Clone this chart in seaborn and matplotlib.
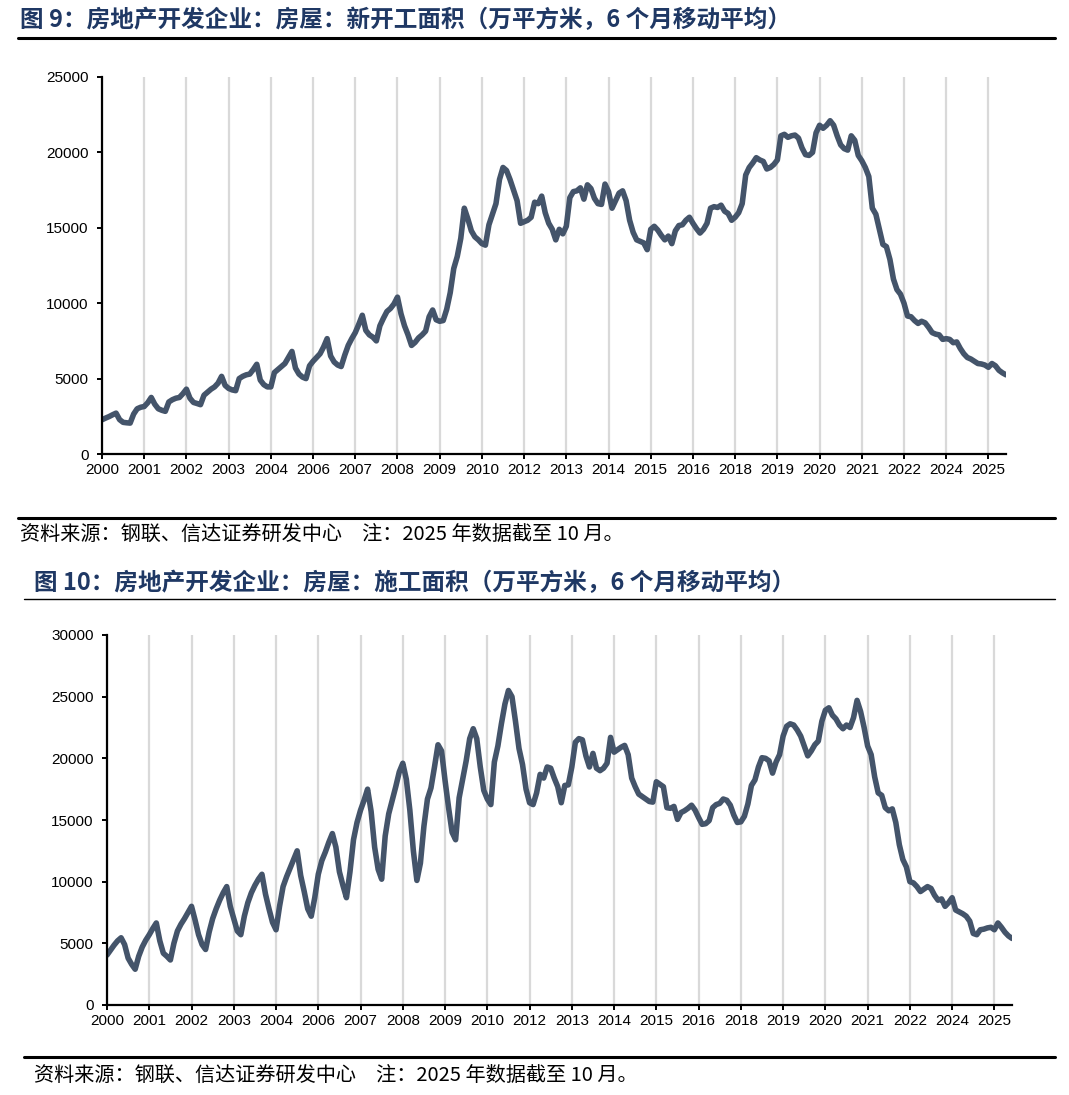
import matplotlib
matplotlib.use("Agg")
import matplotlib.pyplot as plt
from matplotlib.lines import Line2D
import pandas as pd
import seaborn as sns

# months in the series: Mar-Dec each year, 2025 up to Oct
years = list(range(2000, 2026))
months = [(y, m) for y in years for m in range(3, 13) if not (y == 2025 and m > 10)]

# 新开工面积, 6个月移动平均 (万平方米)
new_start = [
    2270, 2380, 2480, 2600, 2710, 2280, 2100, 2070, 2050, 2650,
    3000, 3100, 3150, 3400, 3750, 3300, 3000, 2900, 2830, 3450,
    3600, 3700, 3750, 4000, 4300, 3700, 3420, 3350, 3270, 3900,
    4100, 4300, 4450, 4700, 5150, 4550, 4350, 4250, 4200, 5000,
    5150, 5250, 5300, 5600, 5950, 4900, 4600, 4450, 4450, 5400,
    5600, 5800, 6000, 6400, 6800, 5700, 5300, 5100, 5000, 5850,
    6150, 6400, 6650, 7100, 7650, 6500, 6100, 5900, 5800, 6550,
    7200, 7650, 8050, 8600, 9200, 8200, 7900, 7750, 7500, 8500,
    9000, 9450, 9650, 9950, 10400, 9300, 8500, 7900, 7200, 7400,
    7700, 7900, 8150, 9100, 9550, 8900, 8800, 8850, 9600, 10700,
    12300, 13100, 14300, 16300, 15600, 14800, 14400, 14200, 13950, 13850,
    15200, 15900, 16600, 18200, 19000, 18800, 18200, 17500, 16800, 15300,
    15400, 15500, 15700, 16700, 16600, 17100, 16000, 15300, 14900, 14200,
    14900, 14600, 15100, 17000, 17400, 17450, 17650, 16900, 17850, 17600,
    16950, 16600, 16550, 17900, 17400, 16300, 16800, 17300, 17450, 16800,
    15500, 14700, 14200, 14100, 14000, 13550, 14900, 15100, 14850, 14500,
    14200, 14450, 13950, 14800, 15150, 15200, 15500, 15700, 15300, 14950,
    14650, 14900, 15300, 16300, 16400, 16350, 16500, 16100, 15950, 15500,
    15700, 16000, 16600, 18500, 19000, 19300, 19650, 19500, 19400, 18900,
    19000, 19200, 19500, 21100, 21200, 21000, 21100, 21150, 20950, 20300,
    19850, 19800, 20000, 21300, 21800, 21600, 21800, 22100, 21800, 21100,
    20500, 20250, 20150, 21100, 20800, 19800, 19450, 19000, 18400, 16300,
    15900, 14900, 13900, 13750, 12900, 11600, 10900, 10600, 10000, 9150,
    9100, 8850, 8660, 8800, 8700, 8400, 8050, 7950, 7900, 7600,
    7650, 7600, 7380, 7430, 7000, 6650, 6400, 6300, 6150, 6000,
    5970, 5900, 5750, 6000, 5850, 5550, 5380, 5250,
]

# 施工面积, 6个月移动平均 (万平方米)
under_construction = [
    4050, 4450, 4850, 5200, 5450, 4900, 3800, 3300, 2900, 3950,
    4700, 5250, 5700, 6200, 6650, 5200, 4200, 3950, 3650, 5000,
    6000, 6550, 7000, 7500, 8000, 6900, 5700, 4900, 4500, 5900,
    7000, 7800, 8500, 9100, 9600, 8000, 7000, 6000, 5700, 7200,
    8300, 9100, 9700, 10200, 10600, 9000, 7800, 6700, 6100, 8000,
    9600, 10400, 11100, 11800, 12500, 10500, 9200, 7800, 7200, 8700,
    10600, 11700, 12400, 13200, 13900, 12800, 10800, 9700, 8700, 10800,
    13400, 14800, 15800, 16600, 17500, 15700, 12800, 11000, 10200, 13700,
    15500, 16600, 17700, 18900, 19600, 18300, 15800, 12500, 10100, 11500,
    14500, 16700, 17600, 19300, 21100, 20600, 18200, 16000, 14000, 13400,
    16800, 18300, 19800, 21600, 22400, 21600, 19300, 17400, 16700, 16250,
    19700, 21000, 22800, 24400, 25500, 25000, 23000, 20800, 19500, 17500,
    16400, 16250, 17200, 18700, 18400, 19300, 19200, 18400, 17700, 16400,
    17800, 17850, 19300, 21300, 21600, 21500, 20200, 19300, 20400, 19200,
    19000, 19200, 19600, 21700, 20500, 20700, 20900, 21050, 20300, 18400,
    17700, 17100, 16900, 16700, 16500, 16450, 18100, 17900, 17700, 16000,
    15950, 16100, 15050, 15600, 15750, 15950, 16200, 15800, 15200, 14650,
    14700, 14950, 16000, 16250, 16350, 16700, 16600, 16200, 15400, 14800,
    14850, 15300, 16300, 17800, 18250, 19300, 20050, 20000, 19800, 18800,
    19700, 20300, 21800, 22600, 22800, 22700, 22300, 21800, 21000, 20200,
    20600, 21100, 21400, 23000, 23900, 24100, 23500, 23200, 22700, 22400,
    22700, 22500, 23300, 24700, 23800, 22500, 21000, 20300, 18500, 17200,
    17000, 16000, 15750, 15900, 14800, 13000, 11800, 11200, 10000, 9900,
    9600, 9200, 9400, 9600, 9450, 8900, 8500, 8600, 8000, 8300,
    8700, 7700, 7550, 7400, 7200, 6800, 5800, 5700, 6100, 6150,
    6250, 6300, 6100, 6650, 6300, 5900, 5600, 5400,
]

titles = [
    "图 9：房地产开发企业：房屋：新开工面积（万平方米，6 个月移动平均）",
    "图 10：房地产开发企业：房屋：施工面积（万平方米，6 个月移动平均）",
]
note = "资料来源：钢联、信达证券研发中心　注：2025 年数据截至 10 月。"
y_max = [25000, 30000]

LINE_COLOR = "#44546A"
TITLE_COLOR = "#1F3864"

sns.set_style("white")
plt.rcParams["font.family"] = ["Liberation Sans", "Noto Sans CJK SC", "DejaVu Sans"]

df = pd.DataFrame({
    "idx": range(len(months)),
    "new_start": new_start,
    "under_construction": under_construction,
})
tick_pos = list(range(0, len(months), 12))
tick_lab = [str(months[i][0]) for i in tick_pos]

fig = plt.figure(figsize=(10.69, 10.95), dpi=100)
H = 1095.0
W = 1069.0

# axes boxes in pixels: left, right, top, bottom
boxes = [(102, 1006, 77, 454), (107, 1012, 635, 1005)]
cols = ["new_start", "under_construction"]

for k in range(2):
    l, r, t, b = boxes[k]
    ax = fig.add_axes([l / W, 1 - b / H, (r - l) / W, (b - t) / H])
    sns.lineplot(data=df, x="idx", y=cols[k], ax=ax, color=LINE_COLOR,
                 linewidth=4.0, solid_joinstyle="round", solid_capstyle="round")
    ax.set_xlim(0, len(months) - 1)
    ax.set_ylim(0, y_max[k])
    ax.set_yticks(range(0, y_max[k] + 1, 5000))
    ax.set_xticks(tick_pos)
    ax.set_xticklabels(tick_lab)
    ax.set_xlabel("")
    ax.set_ylabel("")
    ax.grid(axis="x", color="#D9D9D9", linewidth=1.6)
    ax.grid(axis="y", visible=False)
    ax.set_axisbelow(True)
    for s in ["top", "right"]:
        ax.spines[s].set_visible(False)
    for s in ["left", "bottom"]:
        ax.spines[s].set_color("black")
        ax.spines[s].set_linewidth(1.6)
    ax.tick_params(axis="both", direction="out", length=3.5, width=1.4,
                   color="black", labelsize=11, labelcolor="black")
    ax.tick_params(axis="x", pad=3)
    ax.tick_params(axis="y", pad=6)
    ax.tick_params(bottom=True, left=True)

# titles, rules and source notes
fig.text(20 / W, 1 - 20 / H, titles[0], family=["Noto Sans CJK SC"],
         fontweight="bold", fontsize=17, color=TITLE_COLOR, va="center", ha="left")
fig.add_artist(Line2D([18 / W, 1055 / W], [1 - 38 / H] * 2, color="black", linewidth=2.2))
fig.add_artist(Line2D([18 / W, 1055 / W], [1 - 518 / H] * 2, color="black", linewidth=2.2))
fig.text(20 / W, 1 - 534 / H, note, family=["Noto Sans CJK SC"],
         fontsize=14.5, color="black", va="center", ha="left")

fig.text(34 / W, 1 - 583 / H, titles[1], family=["Noto Sans CJK SC"],
         fontweight="bold", fontsize=17, color=TITLE_COLOR, va="center", ha="left")
fig.add_artist(Line2D([24 / W, 1055 / W], [1 - 599 / H] * 2, color="black", linewidth=1.0))
fig.add_artist(Line2D([24 / W, 1055 / W], [1 - 1057 / H] * 2, color="black", linewidth=2.2))
fig.text(34 / W, 1 - 1075 / H, note, family=["Noto Sans CJK SC"],
         fontsize=14.5, color="black", va="center", ha="left")

fig.savefig("out.png", dpi=100, facecolor="white")
